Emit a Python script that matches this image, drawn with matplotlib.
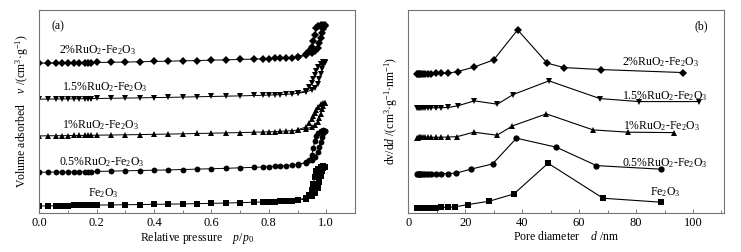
import matplotlib
matplotlib.use('Agg')
from matplotlib import pyplot as plt
from matplotlib.ticker import MultipleLocator

plt.rcParams['font.family'] = ['Liberation Serif', 'DejaVu Serif']
plt.rcParams['mathtext.fontset'] = 'custom'
plt.rcParams['mathtext.rm'] = 'Liberation Serif'
plt.rcParams['mathtext.it'] = 'Liberation Serif:italic'

# ---- (a) N2 isotherms, offset curves (arbitrary units) ----
p_ads = [0.0, 0.03, 0.06, 0.08, 0.10, 0.12, 0.14, 0.16, 0.17, 0.18, 0.20, 0.25, 0.30,
         0.35, 0.40, 0.45, 0.50, 0.55, 0.60, 0.65, 0.70, 0.75, 0.78, 0.80, 0.82, 0.84,
         0.86, 0.88, 0.90, 0.93, 0.95, 0.96, 0.97, 0.975, 0.98, 0.985, 0.99, 0.995]
p_des = [0.995, 0.99, 0.98, 0.97, 0.965, 0.96, 0.955, 0.95, 0.94, 0.93, 0.90]

fe_ads = [7.0, 7.0, 7.2, 7.3, 7.4, 7.5, 7.6, 7.7, 7.8, 7.8, 7.9, 8.0, 8.2, 8.4, 8.6, 8.8,
          9.0, 9.3, 9.6, 9.9, 10.3, 10.7, 11.0, 11.2, 11.4, 11.6, 11.9, 12.2,
          12.7, 14.0, 17.0, 20.0, 25.0, 31.0, 37.0, 42.0, 45.0, 46.0]
fe_des = [46.0, 46.5, 46.0, 44.0, 42.0, 36.0, 29.0, 23.0, 18.0, 15.0, 12.8]

r05_ads = [40.7, 40.8, 40.9, 41.0, 41.0, 41.1, 41.2, 41.3, 41.3, 41.4, 41.5, 41.8, 42.1,
           42.4, 42.7, 43.0, 43.4, 43.8, 44.2, 44.6, 45.1, 45.6, 45.9, 46.3, 46.6, 46.9,
           47.3, 47.7, 48.3, 50.0, 53.0, 56.0, 61.0, 66.0, 71.0, 76.0, 79.5, 81.5]
r05_des = [82.0, 82.5, 82.0, 80.0, 77.0, 72.0, 65.0, 58.0, 53.0, 50.5, 48.5]

r1_ads = [77.0, 77.1, 77.2, 77.2, 77.3, 77.4, 77.5, 77.5, 77.6, 77.6, 77.7, 77.9, 78.1,
          78.3, 78.6, 78.8, 79.1, 79.4, 79.7, 80.0, 80.3, 80.7, 80.9, 81.1, 81.3, 81.6,
          81.9, 82.2, 82.7, 84.0, 86.0, 88.0, 91.0, 95.0, 99.0, 104.0, 107.0, 109.5]
r1_des = [110.0, 110.0, 109.0, 106.0, 103.0, 100.0, 97.0, 94.0, 90.0, 86.0, 83.0]

r15_ads = [113.7, 113.8, 113.9, 113.9, 114.0, 114.1, 114.1, 114.2, 114.2, 114.3, 114.4,
           114.6, 114.8, 115.0, 115.3, 115.5, 115.8, 116.1, 116.4, 116.7, 117.0, 117.4,
           117.6, 117.8, 118.0, 118.3, 118.6, 118.9, 119.4, 121.0, 123.0, 125.0, 129.0,
           134.0, 139.0, 144.0, 148.0, 150.0]
r15_des = [150.5, 150.5, 149.0, 146.0, 142.0, 138.0, 134.0, 130.0, 126.0, 122.0, 119.8]

r2_ads = [149.7, 149.8, 149.9, 150.0, 150.0, 150.1, 150.2, 150.2, 150.3, 150.3, 150.4,
          150.6, 150.8, 151.1, 151.4, 151.7, 152.0, 152.3, 152.7, 153.0, 153.4, 153.8,
          154.0, 154.2, 154.4, 154.6, 154.9, 155.2, 155.7, 157.5, 160.0, 162.0, 165.0,
          170.0, 175.0, 180.0, 184.0, 187.0]
r2_des = [187.5, 188.0, 188.0, 187.0, 185.0, 178.0, 172.0, 166.0, 162.0, 159.0, 156.0]

# ---- (b) pore size distributions ----
d_small = [2.9, 3.3, 3.7, 4.1, 4.6, 5.2, 5.9, 6.8, 8.0, 9.6, 11.5, 14.0]

fe_d = d_small + [16.4, 20.8, 28.4, 37.1, 49.1, 68.4, 88.9]
fe_v = [4.7, 4.7, 4.8, 4.8, 4.9, 5.0, 5.0, 5.1, 5.2, 5.3, 5.5, 5.7,
        6.0, 8.3, 11.7, 19.0, 49.7, 14.7, 10.7]

b05_d = d_small + [16.7, 21.9, 29.6, 38.0, 52.0, 66.1, 88.9]
b05_v = [39.0, 39.0, 39.0, 39.1, 39.1, 39.1, 39.2, 39.2, 39.2, 39.3, 39.3, 39.4,
         39.7, 43.7, 49.0, 74.7, 65.7, 47.3, 43.7]

b1_d = d_small + [17.2, 23.0, 31.2, 36.6, 48.5, 64.9, 77.2, 93.3]
b1_v = [75.3, 75.3, 75.4, 75.4, 75.4, 75.5, 75.5, 75.5, 75.6, 75.6, 75.7, 75.8,
        76.3, 80.7, 77.7, 87.0, 99.0, 83.0, 80.7, 80.3]

b15_d = d_small + [17.3, 23.2, 31.3, 36.8, 49.4, 67.3, 81.0, 102.0]
b15_v = [104.7, 104.7, 104.8, 104.8, 104.8, 104.9, 104.9, 105.0, 105.0, 105.1, 105.2, 105.4,
         107.0, 112.0, 108.7, 118.3, 132.0, 114.3, 111.3, 111.3]

b2_d = d_small + [17.3, 23.0, 30.0, 38.4, 48.8, 54.7, 67.6, 96.5]
b2_v = [139.0, 139.0, 139.1, 139.1, 139.1, 139.2, 139.2, 139.3, 139.3, 139.4, 139.5, 139.7,
        141.3, 145.7, 153.0, 183.0, 149.7, 145.3, 143.3, 140.3]

labels = ['Fe$_2$O$_3$', '0.5%RuO$_2$-Fe$_2$O$_3$', '1%RuO$_2$-Fe$_2$O$_3$',
          '1.5%RuO$_2$-Fe$_2$O$_3$', '2%RuO$_2$-Fe$_2$O$_3$']
markers = ['s', 'o', '^', 'v', 'D']

iso_ads = [fe_ads, r05_ads, r1_ads, r15_ads, r2_ads]
iso_des = [fe_des, r05_des, r1_des, r15_des, r2_des]
psd_d = [fe_d, b05_d, b1_d, b15_d, b2_d]
psd_v = [fe_v, b05_v, b1_v, b15_v, b2_v]

# label anchor positions (data coords)
lab_a = [(0.17, 19.7), (0.07, 50.7), (0.08, 88.0), (0.08, 125.7), (0.07, 163.0)]
lab_b = [(84.8, 20.7), (75.1, 50.3), (75.4, 87.0), (75.2, 117.0), (74.9, 150.3)]

fig = plt.figure(figsize=(7.41, 2.52), dpi=100)
ax1 = fig.add_axes([0.053, 0.155, 0.426, 0.806])
ax2 = fig.add_axes([0.551, 0.155, 0.4265, 0.806])

for i in range(5):
    ms = 3.6 if markers[i] == 'D' else 4.2
    ax1.plot(p_ads, iso_ads[i], color='k', lw=0.7, marker=markers[i], ms=ms, mew=0)
    ax1.plot(p_des, iso_des[i], color='k', lw=0.7, marker=markers[i], ms=ms, mew=0)
    ax1.text(lab_a[i][0], lab_a[i][1], labels[i], fontsize=8.5, va='center', ha='left')
    ax2.plot(psd_d[i], psd_v[i], color='k', lw=0.8, marker=markers[i], ms=ms + 0.3, mew=0)
    ax2.text(lab_b[i][0], lab_b[i][1], labels[i], fontsize=8.5, va='center', ha='left')

ax1.text(0.043, 187, '(a)', fontsize=8.5, va='center', ha='left')
ax2.text(100.6, 187, '(b)', fontsize=8.5, va='center', ha='left')

ax1.set_xlim(0, 1.1)
ax1.set_ylim(0, 203)
ax1.xaxis.set_major_locator(MultipleLocator(0.2))
ax1.xaxis.set_minor_locator(MultipleLocator(0.1))
ax1.set_xticks([0.0, 0.2, 0.4, 0.6, 0.8, 1.0])
ax1.set_xticklabels(['0.0', '0.2', '0.4', '0.6', '0.8', '1.0'])
ax1.set_xlabel('Relative pressure    $p$/$p_0$', fontsize=8.5, labelpad=1)
ax1.set_ylabel('Volume adsorbed    $v$ /(cm$^3$·g$^{-1}$)', fontsize=8.5, labelpad=6)

ax2.set_xlim(0, 111)
ax2.set_ylim(0, 203)
ax2.xaxis.set_major_locator(MultipleLocator(20))
ax2.xaxis.set_minor_locator(MultipleLocator(10))
ax2.set_xlabel('Pore diameter    $d$ /nm', fontsize=8.5, labelpad=1)
ax2.set_ylabel('dv/d$d$ /(cm$^3$·g$^{-1}$·nm$^{-1}$)', fontsize=8.5, labelpad=6)

for ax in (ax1, ax2):
    ax.set_yticks([])
    ax.tick_params(axis='x', which='both', direction='in', labelsize=9, pad=3)
    ax.tick_params(axis='x', which='major', length=3, width=0.6, color='0.4')
    ax.tick_params(axis='x', which='minor', length=2, width=0.6, color='0.4')
    for s in ax.spines.values():
        s.set_color('0.45')
        s.set_linewidth(0.8)

fig.savefig('out.png', dpi=100)
